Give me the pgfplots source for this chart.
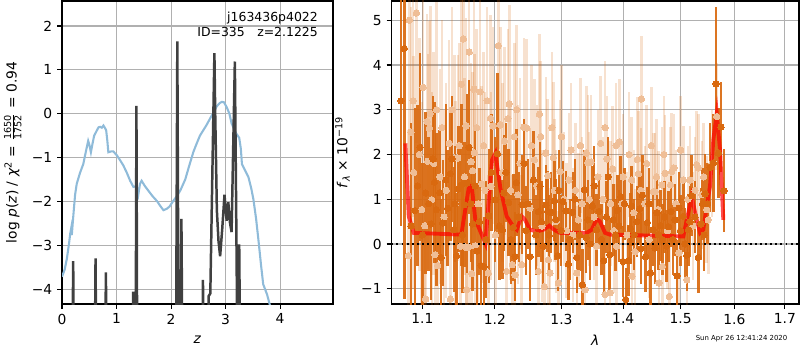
\documentclass[border=0pt]{standalone}
\usepackage{fontspec}
\setmainfont{DejaVu Sans}
\usepackage{pgfplots}
\usepackage{pgfplotstable}
\pgfplotsset{compat=1.18}
\definecolor{gridc}{HTML}{B0B0B0}
\definecolor{pzblue}{RGB}{143,187,217}
\definecolor{chigray}{RGB}{64,64,64}
\definecolor{dorange}{RGB}{217,105,15}
\definecolor{lorange}{RGB}{244,214,190}
\definecolor{lmark}{RGB}{239,190,150}

\pgfplotstableread{
l f e
1.0723 3.20 2.8
1.0765 4.37 5.6
1.0852 0.40 2.3
1.0904 0.75 2.3
1.0938 1.30 1.8
1.0970 2.16 2.1
1.1000 0.20 1.6
1.1045 1.14 1.8
1.1085 0.90 1.5
1.1116 0.45 1.7
1.1140 1.90 1.4
1.1160 1.38 1.8
1.1187 0.77 1.7
1.1232 1.15 1.4
1.1250 -0.30 1.3
1.1273 0.47 1.4
1.1314 1.43 1.7
1.1340 0.80 1.3
1.1376 1.57 1.5
1.1400 1.90 1.4
1.1423 0.32 1.4
1.1440 0.90 1.3
1.1459 -0.26 1.4
1.1486 1.23 1.4
1.1527 1.32 1.8
1.1545 0.20 1.3
1.1569 0.88 1.4
1.1607 1.36 2.0
1.1635 2.16 1.5
1.1660 0.90 1.3
1.1686 0.45 1.5
1.1720 1.30 1.3
1.1747 -0.16 1.4
1.1780 0.50 1.2
1.1803 -0.48 1.3
1.1846 -0.50 1.1
1.1875 0.10 1.3
1.1913 0.63 1.5
1.1950 1.60 1.3
1.2004 0.99 1.4
1.2037 2.02 1.8
1.2065 0.40 1.2
1.2109 0.32 1.1
1.2130 1.14 1.3
1.2160 1.60 1.1
1.2202 0.93 1.2
1.2235 0.10 1.0
1.2270 0.37 1.2
1.2295 -0.28 1.0
1.2314 1.37 1.2
1.2350 0.60 1.0
1.2399 0.88 1.1
1.2430 1.80 1.0
1.2459 0.30 1.0
1.2490 0.90 1.0
1.2518 -0.28 1.0
1.2568 1.43 1.1
1.2605 0.20 0.9
1.2644 0.72 1.0
1.2670 1.29 1.0
1.2690 0.50 0.9
1.2716 -0.05 0.9
1.2761 0.87 0.9
1.2787 0.73 0.9
1.2810 0.20 0.9
1.2838 0.71 0.9
1.2889 0.96 0.9
1.2910 0.55 0.9
1.2942 -0.26 0.8
1.2960 1.20 0.9
1.2993 0.30 0.8
1.3020 0.95 0.9
1.3067 0.74 0.9
1.3108 -0.45 0.8
1.3130 0.10 0.9
1.3177 0.71 0.9
1.3210 1.00 0.9
1.3241 -0.30 0.8
1.3285 0.20 0.8
1.3330 -0.91 0.8
1.3362 1.21 0.9
1.3390 0.15 0.8
1.3417 0.54 0.9
1.3450 0.00 0.8
1.3491 0.85 0.9
1.3520 1.30 0.9
1.3556 0.32 0.8
1.3600 0.73 0.8
1.3640 0.10 0.8
1.3677 -0.37 0.8
1.3723 0.60 0.8
1.3750 1.50 0.9
1.3775 -0.24 0.8
1.3835 0.54 0.8
1.3870 0.20 0.8
1.3902 0.75 0.8
1.3930 0.40 0.8
1.3958 1.06 0.9
1.3997 -0.39 0.8
1.4020 0.90 0.8
1.4043 -1.24 0.7
1.4093 -0.37 0.8
1.4120 0.35 0.8
1.4144 0.85 0.9
1.4183 0.21 0.8
1.4230 0.50 0.8
1.4277 0.78 0.8
1.4300 -0.10 0.8
1.4325 1.09 0.9
1.4381 -0.28 0.8
1.4412 0.48 0.8
1.4440 0.90 0.8
1.4463 -0.65 0.8
1.4511 0.32 0.8
1.4546 -0.09 0.8
1.4580 0.70 0.8
1.4603 0.21 0.8
1.4645 0.41 0.8
1.4674 0.10 0.8
1.4710 0.60 0.8
1.4744 -0.05 0.8
1.4783 0.39 0.8
1.4827 0.73 0.8
1.4860 0.10 0.8
1.4899 0.54 0.8
1.4937 -0.71 0.8
1.4970 0.80 0.8
1.4998 0.30 0.8
1.5048 0.62 0.8
1.5080 0.00 0.8
1.5110 -0.25 0.8
1.5142 0.32 0.8
1.5170 0.50 0.8
1.5200 1.08 0.9
1.5261 0.60 0.8
1.5320 -0.30 0.8
1.5371 0.45 0.8
1.5400 0.90 0.8
1.5427 0.20 0.8
1.5445 1.12 0.9
1.5494 0.90 0.9
1.5538 1.71 1.0
1.5600 1.81 1.1
1.5651 3.58 1.72
1.5694 2.03 1.0
1.5745 2.61 1.0
1.5802 1.19 0.93
}\darkdata

\pgfplotstableread{
l f e
1.0817 -0.26 2.8
1.0830 5.00 3.0
1.0850 2.50 2.8
1.0880 3.20 2.6
1.0887 1.60 2.6
1.0921 5.16 2.9
1.0960 2.00 2.6
1.0992 0.77 2.4
1.1010 3.50 2.5
1.1036 0.41 2.4
1.1045 -1.23 2.4
1.1063 2.74 2.4
1.1072 1.85 2.4
1.1093 2.59 2.4
1.1106 2.91 2.4
1.1125 0.99 2.4
1.1150 1.80 2.5
1.1169 -0.24 2.3
1.1190 3.00 2.4
1.1204 -0.48 2.3
1.1236 1.50 2.4
1.1260 2.60 2.4
1.1291 0.60 2.4
1.1320 1.20 2.4
1.1361 2.25 2.3
1.1376 -1.23 2.3
1.1400 3.00 2.3
1.1430 1.92 2.3
1.1450 0.90 2.3
1.1478 1.92 2.3
1.1500 2.20 2.3
1.1513 -0.05 2.3
1.1527 3.57 2.4
1.1555 4.58 2.6
1.1570 1.50 2.2
1.1589 -0.07 2.3
1.1593 2.64 2.4
1.1600 -1.02 2.2
1.1628 -0.07 2.2
1.1637 4.29 2.4
1.1662 1.84 2.2
1.1672 -0.66 2.2
1.1684 1.64 2.2
1.1701 3.46 2.4
1.1709 2.04 2.2
1.1719 -0.04 2.2
1.1740 2.60 2.2
1.1761 0.90 2.2
1.1790 3.40 2.2
1.1813 1.34 2.2
1.1840 2.20 2.1
1.1860 1.20 2.2
1.1890 3.20 2.1
1.1906 -0.65 2.2
1.1936 2.81 2.3
1.1946 1.29 2.1
1.1974 2.64 2.2
1.2008 0.20 2.1
1.2050 4.43 2.3
1.2080 2.66 2.2
1.2110 1.60 2.0
1.2138 2.30 2.1
1.2172 -0.61 2.0
1.2190 2.80 2.0
1.2210 3.13 2.2
1.2230 1.20 2.0
1.2255 -0.46 2.0
1.2285 2.40 2.1
1.2295 -0.69 2.0
1.2320 3.00 1.9
1.2340 1.10 2.0
1.2370 1.80 1.9
1.2394 -0.46 2.0
1.2424 2.61 2.0
1.2469 2.59 2.0
1.2518 0.80 1.8
1.2540 2.20 1.8
1.2583 1.88 1.8
1.2620 1.30 1.8
1.2644 -0.61 1.7
1.2659 2.90 1.8
1.2680 2.40 1.7
1.2700 0.40 1.7
1.2735 -0.95 1.7
1.2757 2.03 1.7
1.2787 1.53 1.7
1.2797 -0.35 1.6
1.2823 -0.65 1.6
1.2850 2.60 1.7
1.2873 1.93 1.7
1.2890 1.20 1.6
1.2914 0.50 1.6
1.2950 -0.87 1.6
1.2978 1.62 1.6
1.3000 2.40 1.6
1.3040 1.00 1.5
1.3080 0.30 1.5
1.3117 1.43 1.5
1.3150 2.10 1.5
1.3182 0.20 1.5
1.3220 1.20 1.5
1.3241 -0.65 1.5
1.3266 0.54 1.5
1.3300 2.20 1.5
1.3325 0.90 1.5
1.3373 -1.02 1.4
1.3394 2.03 1.5
1.3417 1.82 1.5
1.3440 1.00 1.5
1.3470 1.83 1.5
1.3518 0.60 1.4
1.3562 -0.05 1.4
1.3580 1.50 1.5
1.3627 2.25 1.5
1.3665 1.00 1.4
1.3698 -1.13 1.4
1.3700 2.60 1.5
1.3730 1.90 1.4
1.3780 -1.09 1.4
1.3790 0.90 1.4
1.3825 1.68 1.4
1.3846 0.30 1.4
1.3880 2.20 1.4
1.3890 -0.05 1.4
1.3935 2.28 1.4
1.3980 0.90 1.4
1.4000 1.50 1.4
1.4063 0.20 1.4
1.4100 2.00 1.4
1.4144 1.43 1.4
1.4150 -0.72 1.4
1.4180 0.70 1.4
1.4201 -0.17 1.4
1.4240 1.89 1.4
1.4257 1.57 1.4
1.4300 1.20 1.4
1.4308 3.24 1.4
1.4372 0.90 1.3
1.4400 1.80 1.3
1.4441 0.10 1.3
1.4480 2.20 1.3
1.4515 1.17 1.3
1.4546 1.17 1.3
1.4570 1.50 1.3
1.4603 0.77 1.3
1.4615 -0.87 1.3
1.4663 1.32 1.3
1.4674 -0.50 1.3
1.4700 2.00 1.3
1.4721 1.58 1.3
1.4763 0.30 1.3
1.4797 -1.17 1.3
1.4818 1.32 1.3
1.4840 1.62 1.3
1.4880 1.70 1.2
1.4916 0.90 1.2
1.4970 -0.20 1.2
1.5000 2.10 1.2
1.5048 1.43 1.2
1.5110 -0.80 1.2
1.5130 1.00 1.2
1.5169 1.43 1.2
1.5224 0.40 1.2
1.5260 1.20 1.2
1.5292 1.77 1.2
1.5322 1.70 1.2
1.5389 1.10 1.2
1.5420 1.50 1.2
1.5476 0.77 1.2
1.5505 0.54 1.2
1.5576 1.80 1.2
1.5664 2.85 1.2
}\lightdata

\begin{document}
\begin{tikzpicture}
\path[use as bounding box] (0,0) rectangle (578.16pt,252.945pt);
\pgfplotsset{myax/.style={
  scale only axis, anchor=south west,
  axis line style={line width=0.8pt},
  grid=major, grid style={gridc, line width=0.8pt},
  tick align=outside, major tick length=3.5pt,
  tick style={black, line width=0.8pt},
  xtick pos=bottom, ytick pos=left,
  ticklabel style={font=\fontsize{10}{12}\selectfont},
  label style={font=\fontsize{10}{12}\selectfont},
}}
\begin{axis}[myax,
  at={(44.81pt,33.24pt)}, width=195.85pt, height=218.98pt,
  xmin=0, xmax=4.97, ymin=-4.34, ymax=2.57,
  xtick={0,1,2,3,4}, xticklabels={0,1,2,3,4},
  ytick={-4,-3,-2,-1,0,1,2}, yticklabels={−4,−3,−2,−1,0,1,2},
  xlabel={\textit{z}},
  xlabel style={at={(axis description cs:0.5,-0.119)}, anchor=center},
  ylabel={log \textit{p}(\textit{z}) / \textit{χ}$^{\mbox{\fontsize{7}{7}\selectfont 2}}$ = $\frac{\mbox{\fontsize{7}{7}\selectfont 1650}}{\mbox{\fontsize{7}{7}\selectfont 1752}}$ = 0.94},
  ylabel style={at={(axis description cs:-0.1815,0.5)}, anchor=center},
]
\addplot[pzblue, line width=1.5pt] coordinates {
(0.00,-3.72) (0.05,-3.55) (0.09,-3.30) (0.13,-2.95) (0.15,-2.74) (0.17,-2.60)
(0.18,-2.77) (0.19,-2.60) (0.21,-2.29) (0.24,-1.85) (0.27,-1.60) (0.33,-1.35)
(0.39,-1.15) (0.44,-0.85) (0.48,-0.62) (0.50,-0.70) (0.53,-0.88) (0.56,-0.68)
(0.59,-0.50) (0.64,-0.38) (0.67,-0.31) (0.70,-0.30) (0.73,-0.32) (0.76,-0.27)
(0.79,-0.33) (0.81,-0.38) (0.83,-0.60) (0.85,-0.88) (0.90,-0.86) (0.94,-0.86)
(1.00,-0.94) (1.06,-1.05) (1.125,-1.18) (1.19,-1.35) (1.25,-1.53) (1.31,-1.67)
(1.37,-1.65) (1.40,-1.84) (1.43,-1.60) (1.46,-1.53) (1.52,-1.65) (1.58,-1.75)
(1.66,-1.88) (1.74,-1.99) (1.80,-2.10) (1.86,-2.20) (1.92,-2.17) (1.97,-2.12)
(2.04,-1.99) (2.10,-1.89) (2.17,-1.75) (2.26,-1.50) (2.33,-1.20) (2.41,-0.87)
(2.47,-0.68) (2.53,-0.50) (2.59,-0.38) (2.65,-0.26) (2.72,-0.10) (2.78,0.03)
(2.84,0.17) (2.89,0.24) (2.93,0.27) (2.97,0.26) (3.02,0.15) (3.07,0.00)
(3.11,-0.22) (3.16,-0.36) (3.20,-0.46) (3.25,-0.55) (3.28,-0.80) (3.30,-1.15)
(3.36,-1.30) (3.42,-1.45) (3.47,-1.70) (3.51,-1.95) (3.56,-2.40) (3.60,-2.85)
(3.65,-3.45) (3.69,-3.89) (3.76,-4.12) (3.82,-4.40) (3.90,-5.00)
};
\addplot[chigray, line width=1.8pt] coordinates {
(0.00,-6) (0.19,-6) (0.205,-3.36) (0.22,-6) (0.60,-6) (0.615,-3.30) (0.63,-6)
(0.79,-6) (0.805,-3.62) (0.82,-6) (1.29,-6) (1.305,-4.06) (1.32,-6)
(1.35,-6) (1.365,0.18) (1.38,-6) (2.09,-6) (2.115,1.65) (2.14,-6)
(2.17,-6) (2.19,-2.40) (2.21,-6) (2.57,-6) (2.585,-3.79) (2.60,-6)
(2.68,-6) (2.69,-4.16) (2.72,-4.10) (2.795,1.38) (2.81,0.00) (2.84,-2.20)
(2.87,-2.90) (2.90,-3.25) (2.94,-2.60) (2.98,-1.85) (3.02,-2.44) (3.05,-2.02)
(3.08,-2.48) (3.11,-2.70) (3.17,1.19) (3.20,-3.00) (3.22,-6) (3.235,-6)
(3.25,-2.98) (3.27,-6) (4.97,-6)
};
\node[anchor=north east, align=right, inner sep=0pt, font=\fontsize{9}{11}\selectfont]
  at (axis description cs:0.945,0.965) {j163436p4022\\ID=335\hspace{9pt}z=2.1225};
\end{axis}

\begin{axis}[myax,
  at={(282.8pt,33.24pt)}, width=294.64pt, height=218.98pt,
  xmode=log, xmin=1.0598, xmax=1.729, ymin=-1.34, ymax=5.43,
  xtick={1.1,1.2,1.3,1.4,1.5,1.6,1.7}, xticklabels={1.1,1.2,1.3,1.4,1.5,1.6,1.7},
  minor xtick={},
  ytick={-1,0,1,2,3,4,5}, yticklabels={−1,0,1,2,3,4,5},
  xlabel={\textit{λ}},
  xlabel style={at={(axis description cs:0.5,-0.119)}, anchor=center},
  ylabel={\textit{f}$_{\mbox{\fontsize{7}{7}\selectfont\itshape λ}}$ × 10$^{\mbox{\fontsize{7}{7}\selectfont −19}}$},
  ylabel style={at={(axis description cs:-0.1197,0.5)}, anchor=center},
]
\addplot[color=lorange, only marks, mark=*, mark size=2.3pt,
  mark options={draw=lmark, fill=lmark, line width=0pt},
  error bars/.cd, y dir=both, y explicit, error mark=none,
  error bar style={line width=1.8pt, color=dorange, opacity=0.2}]
  table[x=l, y=f, y error=e] {\lightdata};
\addplot[color=dorange, only marks, mark=*, mark size=2.3pt,
  mark options={draw=dorange, fill=dorange, line width=0pt},
  error bars/.cd, y dir=both, y explicit, error mark=none,
  error bar style={line width=1.8pt, color=dorange, opacity=0.92}]
  table[x=l, y=f, y error=e] {\darkdata};
\addplot[red, line width=2.8pt, opacity=0.7] coordinates {
(1.0778,2.25) (1.0822,0.62) (1.0887,0.25) (1.1527,0.21) (1.1637,1.32) (1.1677,1.21)
(1.1723,0.54) (1.1765,0.39) (1.1864,0.02) (1.1960,1.88) (1.2008,2.03) (1.2080,1.25)
(1.2172,0.62) (1.2270,0.39) (1.2320,0.32) (1.2394,0.62) (1.2444,0.54) (1.2518,0.32)
(1.2620,0.28) (1.2720,0.32) (1.2812,0.41) (1.2884,0.32) (1.2978,0.25) (1.3400,0.25)
(1.3481,0.32) (1.3562,0.56) (1.3616,0.50) (1.3698,0.25) (1.3780,0.21) (1.5048,0.17)
(1.5200,1.06) (1.5292,0.54) (1.5353,0.25) (1.5413,0.32) (1.5476,0.84) (1.5538,1.29)
(1.5600,2.33) (1.5664,2.92) (1.5726,2.10) (1.5788,0.54)
};
\addplot[black, line width=1.4pt, dash pattern=on 1.4pt off 2.3pt] coordinates {(1.0598,0) (1.729,0)};
\end{axis}
\node[font=\fontsize{5}{6}\selectfont, anchor=center] at (535.9pt,7.95pt) {Sun Apr 26 12:41:24 2020};
\end{tikzpicture}
\end{document}
